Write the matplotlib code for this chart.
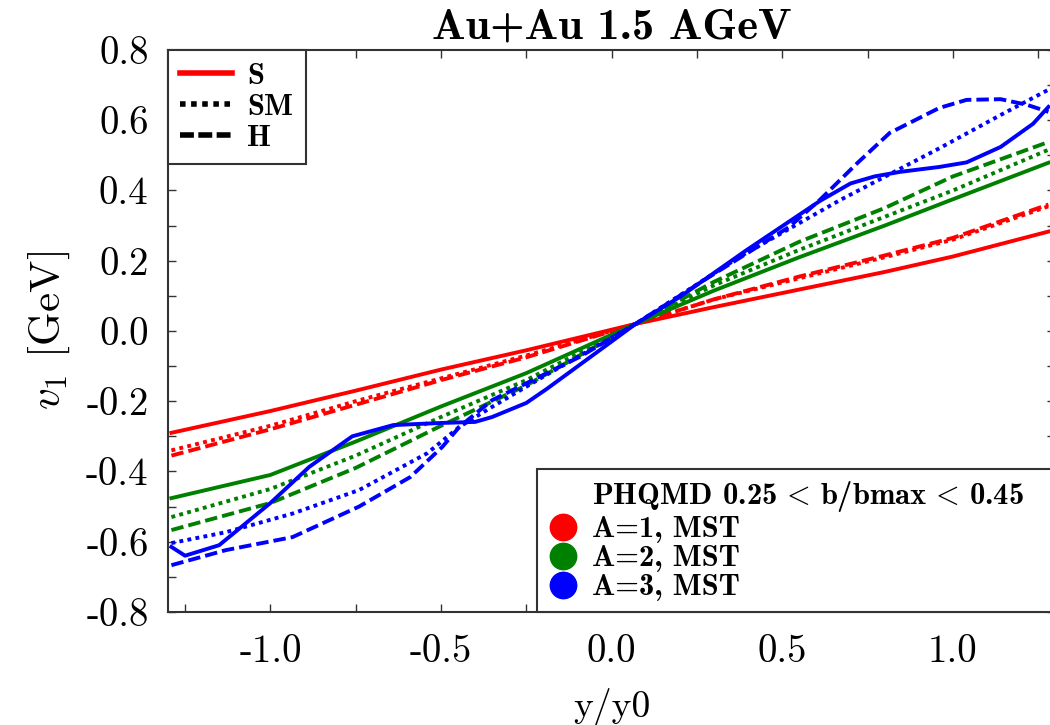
import matplotlib
matplotlib.use("Agg")
import matplotlib.pyplot as plt
from matplotlib.lines import Line2D
from matplotlib.ticker import MultipleLocator

plt.rcParams["mathtext.fontset"] = "cm"
plt.rcParams["font.family"] = ["cmr10", "DejaVu Serif"]
plt.rcParams["axes.unicode_minus"] = False

# --- data (y/y0 vs v1) ---
# A=1 and A=2 share one x grid
x_lin = [-1.29, -1.0, -0.75, -0.5, -0.25, 0.07, 0.3, 0.55, 0.8, 1.0, 1.28]

a1_s = [-0.29, -0.228, -0.17, -0.11, -0.055, 0.02, 0.068, 0.118, 0.168, 0.212, 0.283]
a1_sm = [-0.34, -0.27, -0.20, -0.135, -0.07, 0.02, 0.09, 0.15, 0.21, 0.26, 0.355]
a1_h = [-0.355, -0.28, -0.21, -0.14, -0.075, 0.02, 0.09, 0.155, 0.215, 0.265, 0.36]

a2_s = [-0.476, -0.41, -0.315, -0.215, -0.12, 0.02, 0.115, 0.21, 0.30, 0.375, 0.479]
a2_sm = [-0.53, -0.45, -0.355, -0.245, -0.14, 0.02, 0.13, 0.231, 0.325, 0.40, 0.516]
a2_h = [-0.567, -0.49, -0.39, -0.27, -0.155, 0.02, 0.14, 0.254, 0.35, 0.44, 0.538]

a3_s_x = [-1.29, -1.25, -1.15, -1.0, -0.886, -0.76, -0.64, -0.5, -0.4, -0.35, -0.25,
          -0.19, 0.0, 0.07, 0.2, 0.395, 0.61, 0.70, 0.77, 0.845, 0.96, 1.04, 1.14,
          1.235, 1.28]
a3_s = [-0.615, -0.64, -0.61, -0.49, -0.387, -0.30, -0.268, -0.262, -0.259, -0.245,
        -0.205, -0.165, -0.03, 0.02, 0.097, 0.23, 0.37, 0.42, 0.44, 0.453, 0.467,
        0.48, 0.524, 0.59, 0.638]

a3_sm_x = [-1.29, -1.13, -0.935, -0.74, -0.54, -0.446, -0.35, -0.2, 0.07, 0.375,
           0.67, 0.96, 1.14, 1.28]
a3_sm = [-0.604, -0.573, -0.52, -0.453, -0.348, -0.273, -0.216, -0.13, 0.02, 0.211,
         0.373, 0.52, 0.615, 0.687]

a3_h_x = [-1.29, -1.13, -0.935, -0.74, -0.59, -0.496, -0.446, -0.35, -0.094, 0.07,
          0.296, 0.52, 0.61, 0.72, 0.815, 0.96, 1.04, 1.14, 1.217, 1.28]
a3_h = [-0.667, -0.624, -0.587, -0.50, -0.416, -0.33, -0.273, -0.197, -0.074, 0.02,
        0.16, 0.296, 0.373, 0.478, 0.564, 0.635, 0.658, 0.66, 0.644, 0.624]

x_ticks = [-1.0, -0.5, 0.0, 0.5, 1.0]
x_tick_labels = ["-1.0", "-0.5", "0.0", "0.5", "1.0"]
y_ticks = [-0.8, -0.6, -0.4, -0.2, 0.0, 0.2, 0.4, 0.6, 0.8]
y_tick_labels = ["-0.8", "-0.6", "-0.4", "-0.2", "0.0", "0.2", "0.4", "0.6", "0.8"]

style_names = ["S", "SM", "H"]
group_names = ["A=1, MST", "A=2, MST", "A=3, MST"]
colors = ["#ff0000", "#008000", "#0000ff"]

DOTTED = (0, (1.0, 1.1))
DASHED = (0, (3.2, 1.3))
LW = 2.8

fig = plt.figure(figsize=(10.5, 7.25), dpi=100)
ax = fig.add_axes([0.16, 0.156, 0.845, 0.775])

series = [
    (x_lin, a1_s, x_lin, a1_sm, x_lin, a1_h),
    (x_lin, a2_s, x_lin, a2_sm, x_lin, a2_h),
    (a3_s_x, a3_s, a3_sm_x, a3_sm, a3_h_x, a3_h),
]
for c, (xs, ys, xm, ym, xh, yh) in zip(colors, series):
    ax.plot(xs, ys, color=c, lw=LW, ls="-", solid_joinstyle="round")
    ax.plot(xm, ym, color=c, lw=LW, ls=DOTTED)
    ax.plot(xh, yh, color=c, lw=LW, ls=DASHED)

ax.set_xlim(-1.3, 1.3)
ax.set_ylim(-0.8, 0.8)
ax.set_xticks(x_ticks)
ax.set_xticklabels(x_tick_labels)
ax.set_yticks(y_ticks)
ax.set_yticklabels(y_tick_labels)
ax.xaxis.set_minor_locator(MultipleLocator(0.25))
ax.yaxis.set_minor_locator(MultipleLocator(0.1))
ax.tick_params(which="both", direction="in", top=True, right=True,
               length=6, width=1.0, color="#333333")
ax.tick_params(axis="x", labelsize=28, pad=16)
ax.tick_params(axis="y", labelsize=28, pad=14)
for sp in ax.spines.values():
    sp.set_linewidth(1.5)
    sp.set_color("#333333")

ax.set_xlabel("y/y0", fontsize=27, labelpad=13)
ax.set_ylabel(r"$v_1$ [GeV]", fontsize=31, labelpad=10)
ax.set_title("Au+Au 1.5 AGeV", fontsize=32, fontweight="bold",
             family=["cmb10", "DejaVu Serif"], pad=8)

bold = {"family": ["cmb10", "DejaVu Serif"], "size": 22}

style_handles = [
    Line2D([], [], color="#ff0000", lw=4, ls="-"),
    Line2D([], [], color="black", lw=4, ls=(0, (1.0, 1.0))),
    Line2D([], [], color="black", lw=4, ls=(0, (2.5, 0.8))),
]
leg1 = ax.legend(style_handles, style_names, loc="upper left", borderaxespad=0,
                 prop=bold, handlelength=1.7, handletextpad=0.5, labelspacing=0.12,
                 fancybox=False, framealpha=1, edgecolor="#333333",
                 borderpad=0.4)
leg1.get_frame().set_linewidth(1.5)
ax.add_artist(leg1)

group_handles = [Line2D([], [], ls="none")] + [
    Line2D([], [], ls="none", marker="o", markersize=19, color=c) for c in colors
]
group_labels = [r"PHQMD 0.25$\,<\,$b/bmax$\,<\,$0.45"] + group_names
leg2 = ax.legend(group_handles, group_labels, loc="lower left",
                 bbox_to_anchor=(0.416, 0.0, 0.584, 0.3), mode="expand",
                 borderaxespad=0,
                 prop=bold, handlelength=1.0, handletextpad=0.45, labelspacing=0.05,
                 fancybox=False, framealpha=1, edgecolor="#333333",
                 borderpad=0.35)
leg2.get_frame().set_linewidth(1.5)

fig.savefig("out.png", dpi=100)
